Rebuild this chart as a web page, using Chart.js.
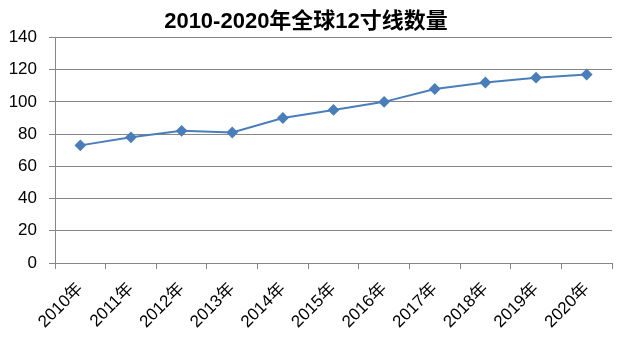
<!DOCTYPE html>
<html>
<head>
<meta charset="utf-8">
<script src="https://cdn.jsdelivr.net/npm/chart.js@4"></script>
<style>
  html, body { margin: 0; padding: 0; background: #fff; }
  #wrap { width: 636px; height: 352px; }
</style>
</head>
<body>
<div id="wrap"><canvas id="chart" width="636" height="352"></canvas></div>
<script>
// --- Dados ---
const years = ['2010年', '2011年', '2012年', '2013年', '2014年', '2015年',
               '2016年', '2017年', '2018年', '2019年', '2020年'];
const counts = [73, 78, 82, 81, 90, 95, 100, 108, 112, 115, 117];
const yTicks = [0, 20, 40, 60, 80, 100, 120, 140];
const chartTitle = '2010-2020年全球12寸线数量';

const axisColor = '#868686';
const lineColor = '#4A7EBB';
const fontFamily = '"Liberation Sans", "Noto Sans CJK SC", sans-serif';

const ctx = document.getElementById('chart').getContext('2d');

new Chart(ctx, {
    type: 'line',
    data: {
        labels: years,
        datasets: [{
            label: chartTitle,
            data: counts,
            borderColor: lineColor,
            backgroundColor: lineColor,
            borderWidth: 2,
            pointStyle: 'rectRot',
            pointRadius: 4.5,
            pointHoverRadius: 4.5,
            tension: 0
        }]
    },
    options: {
        responsive: false,
        animation: false,
        layout: { padding: { left: 0, right: 24, top: 9, bottom: 0 } },
        plugins: {
            legend: { display: false },
            tooltip: { enabled: false },
            title: {
                display: true,
                text: chartTitle,
                color: '#000',
                font: { family: fontFamily, size: 22, weight: 'bold' },
                padding: { top: 0, bottom: 2 }
            }
        },
        scales: {
            x: {
                offset: true,
                grid: {
                    offset: true,
                    drawOnChartArea: false,
                    drawTicks: true,
                    tickLength: 6,
                    color: axisColor
                },
                border: { display: true, color: axisColor, width: 1 },
                ticks: {
                    color: '#000',
                    font: { family: fontFamily, size: 17 },
                    minRotation: 45,
                    maxRotation: 45,
                    padding: 10
                },
                afterFit: (scale) => { scale.height = 89; }
            },
            y: {
                min: 0,
                max: 140,
                afterBuildTicks: (scale) => { scale.ticks = yTicks.map(v => ({ value: v })); },
                grid: {
                    color: axisColor,
                    drawTicks: true,
                    tickLength: 6
                },
                border: { display: true, color: axisColor, width: 1 },
                ticks: {
                    color: '#000',
                    font: { family: fontFamily, size: 17 },
                    padding: 12
                },
                afterFit: (scale) => { scale.width = 55; }
            }
        }
    }
});
</script>
</body>
</html>
